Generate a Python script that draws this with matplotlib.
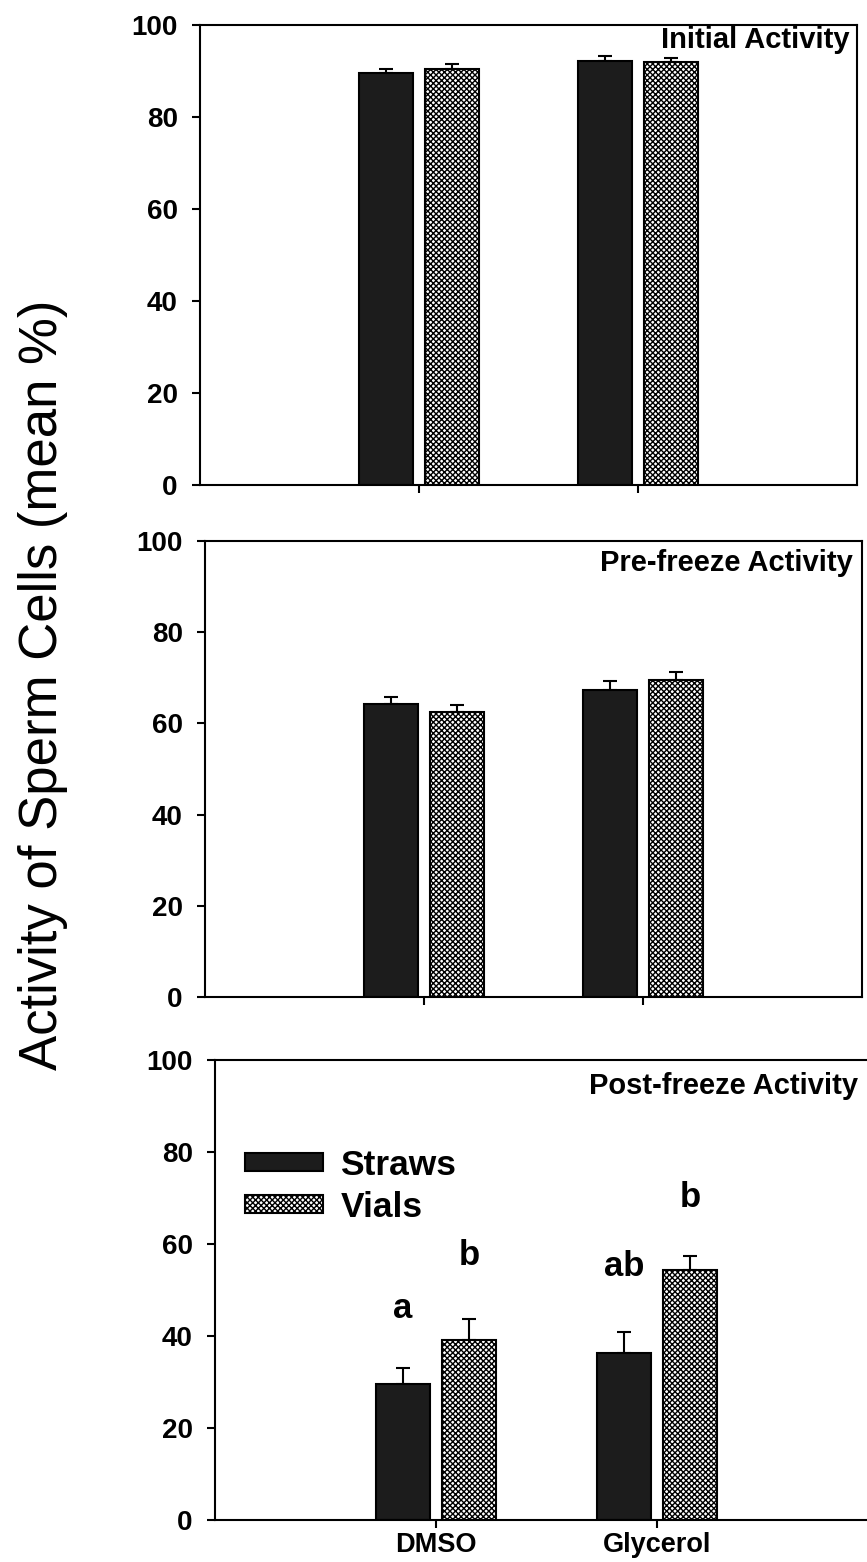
import numpy as np
import matplotlib
matplotlib.use("Agg")
import matplotlib.pyplot as plt

plt.rcParams['font.family'] = ['Liberation Sans', 'DejaVu Sans']
plt.rcParams['hatch.linewidth'] = 1.0

groups = ['DMSO', 'Glycerol']
series = ['Straws', 'Vials']
panel_titles = ['Initial Activity', 'Pre-freeze Activity', 'Post-freeze Activity']

# mean % and SE, rows = panels, [DMSO, Glycerol]
straws_mean = [[89.5, 92.2], [64.3, 67.3], [29.5, 36.3]]
straws_err = [[0.9, 1.1], [1.5, 2.1], [3.5, 4.5]]
vials_mean = [[90.5, 91.9], [62.6, 69.6], [39.1, 54.3]]
vials_err = [[1.0, 1.0], [1.4, 1.6], [4.5, 3.0]]

letters = ['a', 'b', 'ab', 'b']
letter_y = [46, 57.5, 55, 70]

fig = plt.figure(figsize=(8.67, 15.62), dpi=100)
rects = [[0.2307, 0.6895, 0.7578, 0.2945],
         [0.2364, 0.3617, 0.7578, 0.2919],
         [0.2480, 0.0269, 0.7647, 0.2945]]
title_pos = [(0.989, 0.967), (0.986, 0.952), (0.97, 0.943)]

x = np.array([1, 2])
w = 0.245
off = 0.15

for i, r in enumerate(rects):
    ax = fig.add_axes(r)
    b1 = ax.bar(x - off, straws_mean[i], w, color='#1c1c1c', edgecolor='black',
                linewidth=1.5, label=series[0], zorder=2)
    b2 = ax.bar(x + off, vials_mean[i], w, color='white', edgecolor='black',
                linewidth=1.5, hatch='xxxxxx', label=series[1], zorder=2)
    ax.errorbar(x - off, straws_mean[i], yerr=[np.zeros(2), straws_err[i]],
                fmt='none', ecolor='black', elinewidth=1.5, capsize=5, capthick=1.5, zorder=1)
    ax.errorbar(x + off, vials_mean[i], yerr=[np.zeros(2), vials_err[i]],
                fmt='none', ecolor='black', elinewidth=1.5, capsize=5, capthick=1.5, zorder=1)
    ax.set_xlim(0, 3)
    ax.set_ylim(0, 100)
    ax.set_yticks([0, 20, 40, 60, 80, 100])
    ax.set_xticks(x)
    if i == 2:
        ax.set_xticklabels(groups, fontsize=19.5, fontweight='bold')
    else:
        ax.set_xticklabels([])
    for lab in ax.get_yticklabels():
        lab.set_fontsize(20)
        lab.set_fontweight('bold')
    ax.tick_params(axis='y', direction='out', length=6, width=1.5, pad=10)
    ax.tick_params(axis='x', direction='out', length=6, width=1.5, pad=3)
    for s in ax.spines.values():
        s.set_linewidth(1.5)
    ax.text(title_pos[i][0], title_pos[i][1], panel_titles[i], transform=ax.transAxes,
            ha='right', va='center', fontsize=21, fontweight='bold')
    if i == 2:
        ax.legend(handles=[b1, b2], loc='upper left', bbox_to_anchor=(0.018, 0.845),
                  frameon=False, prop={'weight': 'bold', 'size': 25.5},
                  handlelength=2.2, handleheight=0.4, handletextpad=0.5,
                  labelspacing=0.25, borderpad=0)
        xs = [1 - off, 1 + off, 2 - off, 2 + off]
        for xx, yy, t in zip(xs, letter_y, letters):
            ax.text(xx, yy, t, ha='center', va='center', fontsize=25, fontweight='bold')

fig.text(0.05, 0.5615, 'Activity of Sperm Cells (mean %)', rotation=90,
         ha='center', va='center', fontsize=38)

fig.savefig('out.png', dpi=100)
